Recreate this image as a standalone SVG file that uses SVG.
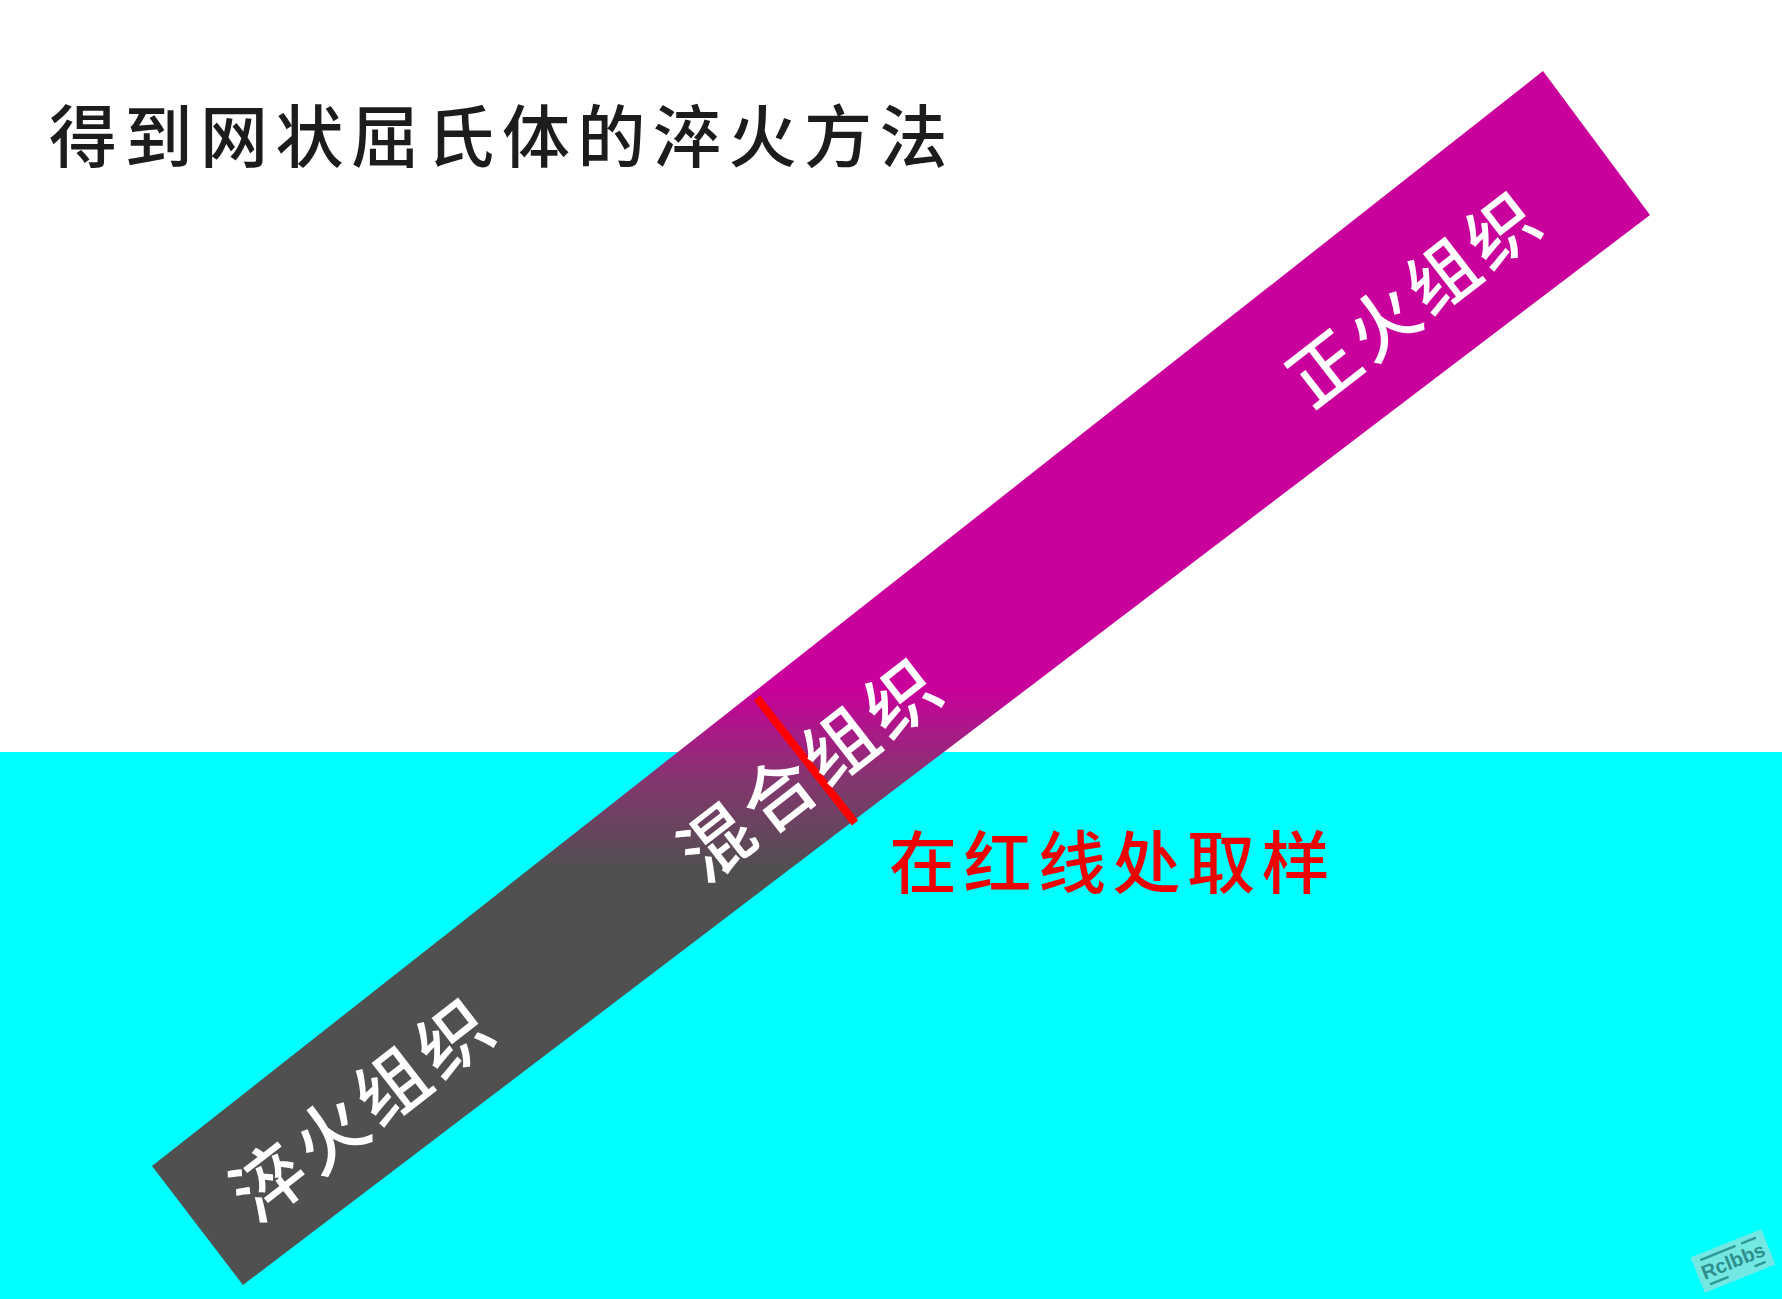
<svg xmlns="http://www.w3.org/2000/svg" width="1782" height="1299" viewBox="0 0 1782 1299">
  <defs>
    <linearGradient id="barGrad" gradientUnits="userSpaceOnUse" x1="0" y1="690" x2="0" y2="870">
      <stop offset="0" stop-color="#C9009B"/>
      <stop offset="0.5" stop-color="#84366F"/>
      <stop offset="1" stop-color="#505050"/>
    </linearGradient>
    <style>
      .cjk { font-family: "Noto Sans CJK SC", "Noto Sans CJK TC", sans-serif; }
      .title { font-size: 68px; fill: #1c1c1c; letter-spacing: 7.5px; font-weight: 500; }
      .bar-label { font-size: 72px; fill: #ffffff; text-anchor: middle; letter-spacing: 6px; font-weight: 500; }
      .note { font-size: 68px; fill: #EE0000; letter-spacing: 6.5px; font-weight: 500; }
    </style>
  </defs>

  <rect id="background" x="0" y="0" width="1782" height="1299" fill="#ffffff"/>
  <rect id="cyan-ground" x="0" y="752" width="1782" height="547" fill="#00FFFF"/>

  <g id="bar">
    <polygon points="152,1166 1543,71 1650,215 243,1285" fill="url(#barGrad)"/>
  </g>

  <g id="sample-line">
    <line x1="757" y1="698" x2="855" y2="823" stroke="#FF0000" stroke-width="8" stroke-linecap="butt"/>
  </g>

  <g id="title">
    <text class="cjk title" x="49" y="162">得到网状屈氏体的淬火方法</text>
  </g>

  <g id="label-quench">
    <text class="cjk bar-label" transform="translate(363,1108) rotate(-37.8)" x="0" y="27">淬火组织</text>
  </g>

  <g id="label-mixed">
    <text class="cjk bar-label" transform="translate(811,768) rotate(-37.8)" x="0" y="27">混合组织</text>
  </g>

  <g id="label-normalize">
    <text class="cjk bar-label" style="font-size:70px;letter-spacing:5px" transform="translate(1414,297) rotate(-37.8)" x="0" y="27">正火组织</text>
  </g>

  <g id="note">
    <text class="cjk note" x="889" y="888">在红线处取样</text>
  </g>

  <g id="watermark" transform="translate(1733,1261) rotate(-22)">
    <rect x="-38" y="-19" width="76" height="38" fill="#7FE6E0" opacity="0.9"/>
    <line x1="-30" y1="-13" x2="8" y2="-13" stroke="#2E9A96" stroke-width="2.5"/>
    <line x1="14" y1="-13" x2="30" y2="-13" stroke="#2E9A96" stroke-width="2.5"/>
    <line x1="-30" y1="13" x2="-10" y2="13" stroke="#2E9A96" stroke-width="2.5"/>
    <line x1="18" y1="13" x2="30" y2="13" stroke="#2E9A96" stroke-width="2.5"/>
    <text x="0" y="7" text-anchor="middle" font-family="'Liberation Sans', sans-serif" font-weight="bold" font-size="20" fill="#2E8F8C">Rclbbs</text>
  </g>
</svg>
